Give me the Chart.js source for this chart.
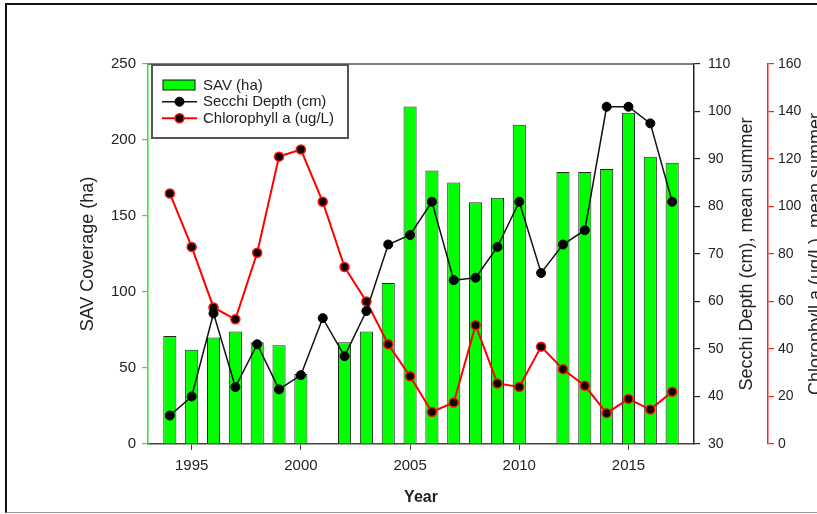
<!DOCTYPE html>
<html>
<head>
<meta charset="utf-8">
<script src="https://cdn.jsdelivr.net/npm/chart.js@4.4.1/dist/chart.umd.min.js"></script>
<style>
  html, body { margin: 0; padding: 0; background: #fff; overflow: hidden; width: 817px; height: 514px; }
  #wrap { position: absolute; left: 0; top: 0; width: 840px; height: 514px; }
  #frame { position: absolute; left: 5px; top: 3px; width: 900px; height: 507px;
           border-left: 2px solid #111; border-top: 2px solid #111; border-bottom: 1px solid #999;
           pointer-events: none; }
</style>
</head>
<body>
<div id="wrap"><canvas id="c"></canvas></div>
<div id="frame"></div>
<script>
// ---- data ----
const years     = [1994,1995,1996,1997,1998,1999,2000,2001,2002,2003,2004,2005,2006,2007,2008,2009,2010,2011,2012,2013,2014,2015,2016,2017];
const savHa     = [71,62,70,74,67,65,46,null,67,74,106,222,180,172,159,162,210,null,179,179,181,218,189,185];
const secchiCm  = [36,40,57.5,42,51,41.5,44.5,56.5,48.5,58,72,74,81,64.5,65,71.5,81,66,72,75,101,101,97.5,81];
const chlUgL    = [105.5,83,57.5,52.5,80.5,121,124,102,74.5,60,42,28.5,13.5,17.5,50,25.5,24,41,31.5,24.5,13,19,14.5,22];
const xTicks      = [1995,2000,2005,2010,2015];
const savTicks    = [0,50,100,150,200,250];
const secchiTicks = [30,40,50,60,70,80,90,100,110];
const chlTicks    = [0,20,40,60,80,100,120,140,160];
const savLabel    = 'SAV (ha)';
const secchiLabel = 'Secchi Depth (cm)';
const chlLabel    = 'Chlorophyll a (ug/L)';
const xTitle      = 'Year';
const savTitle    = 'SAV Coverage (ha)';
const secchiTitle = 'Secchi Depth (cm), mean summer';
const chlTitle    = 'Chlorophyll a (ug/L), mean summer';

const FAMILY = '"Liberation Sans", Arial, sans-serif';
Chart.defaults.font.family = FAMILY;
const TXT = '#222';

const pts = arr => years.map((yr, i) => ({ x: yr, y: arr[i] }));
const fixTicks = list => (s => { s.ticks = list.map(v => ({ value: v })); });

const decor = {
  id: 'decor',
  afterDatasetsDraw(chart) {
    const ctx = chart.ctx, a = chart.chartArea;
    ctx.save();
    // top border of plot box
    ctx.strokeStyle = '#555'; ctx.lineWidth = 1.5;
    ctx.beginPath(); ctx.moveTo(a.left, a.top); ctx.lineTo(a.right, a.top); ctx.stroke();

    // right-axis titles, reading bottom-to-top
    [['ySecchi', secchiTitle, 21], ['yChl', chlTitle, 24]].forEach(([id, text, off]) => {
      const s = chart.scales[id];
      ctx.save();
      ctx.translate(s.right - off, (s.top + s.bottom) / 2);
      ctx.rotate(-Math.PI / 2);
      ctx.font = '18px ' + FAMILY;
      ctx.fillStyle = TXT; ctx.textAlign = 'center'; ctx.textBaseline = 'middle';
      ctx.fillText(text, 0, 0);
      ctx.restore();
    });

    // legend box
    const lx = a.left + 4, ly = a.top + 1, lw = 196, lh = 73;
    ctx.fillStyle = '#fff';
    ctx.fillRect(lx, ly, lw, lh);
    ctx.strokeStyle = '#555'; ctx.lineWidth = 2;
    ctx.strokeRect(lx, ly, lw, lh);
    const ds = chart.data.datasets;
    const rows = [ly + 20, ly + 36.7, ly + 53.3];
    ctx.font = '15px ' + FAMILY; ctx.textAlign = 'left'; ctx.textBaseline = 'middle';
    // SAV swatch
    ctx.fillStyle = ds[0].backgroundColor; ctx.fillRect(lx + 11, rows[0] - 5, 32, 10);
    ctx.strokeStyle = '#111'; ctx.lineWidth = 1; ctx.strokeRect(lx + 11, rows[0] - 5, 32, 10);
    // line swatches
    [1, 2].forEach((k, j) => {
      const d = ds[k], y = rows[j + 1];
      ctx.strokeStyle = d.borderColor; ctx.lineWidth = d.borderWidth;
      ctx.beginPath(); ctx.moveTo(lx + 10, y); ctx.lineTo(lx + 45, y); ctx.stroke();
      ctx.beginPath(); ctx.arc(lx + 27.5, y, d.pointRadius, 0, Math.PI * 2);
      ctx.fillStyle = d.pointBackgroundColor; ctx.fill();
      ctx.strokeStyle = d.pointBorderColor; ctx.lineWidth = d.pointBorderWidth; ctx.stroke();
    });
    ctx.fillStyle = TXT;
    ds.forEach((d, i) => ctx.fillText(d.label, lx + 51, rows[i] + 0.5));
    ctx.restore();
  }
};

new Chart(document.getElementById('c'), {
  type: 'bar',
  data: {
    datasets: [
      { type: 'bar', label: savLabel, data: pts(savHa), yAxisID: 'ySav', order: 3,
        backgroundColor: '#00ff00', borderColor: '#222', borderWidth: 1,
        barPercentage: 0.6, categoryPercentage: 1 },
      { type: 'line', label: secchiLabel, data: pts(secchiCm), yAxisID: 'ySecchi', order: 1,
        borderColor: '#111', borderWidth: 1.5, tension: 0,
        pointRadius: 4.5, pointBackgroundColor: '#000', pointBorderColor: '#000', pointBorderWidth: 1 },
      { type: 'line', label: chlLabel, data: pts(chlUgL), yAxisID: 'yChl', order: 2,
        borderColor: '#ff0000', borderWidth: 2, tension: 0,
        pointRadius: 4.5, pointBackgroundColor: '#100', pointBorderColor: '#ff1010', pointBorderWidth: 1.5 }
    ]
  },
  options: {
    responsive: true, maintainAspectRatio: false, animation: false, events: [],
    layout: { padding: { left: 73, top: 64, right: 0, bottom: 0 } },
    plugins: { legend: { display: false }, tooltip: { enabled: false } },
    scales: {
      x: {
        type: 'linear', position: 'bottom', min: 1993, max: 2018, offset: false,
        afterBuildTicks: fixTicks(xTicks),
        afterFit: s => { s.height = 70; },
        grid: { display: true, drawOnChartArea: false, drawTicks: true, tickLength: 6, color: '#444', lineWidth: 1, offset: false },
        border: { display: true, color: '#444', width: 1.5 },
        ticks: { font: { size: 15 }, color: TXT, padding: 7, maxRotation: 0, autoSkip: false, callback: v => String(v) },
        title: { display: true, text: xTitle, color: TXT, font: { size: 16, weight: 'bold' }, padding: { top: 0, bottom: 7 } }
      },
      ySav: {
        type: 'linear', position: 'left', min: 0, max: 250,
        afterBuildTicks: fixTicks(savTicks),
        afterFit: s => { s.width = 75; },
        grid: { display: true, drawOnChartArea: false, drawTicks: true, tickLength: 6, color: '#22ee22', lineWidth: 1.2 },
        border: { display: true, color: '#22ee22', width: 1.5 },
        ticks: { font: { size: 15 }, color: TXT, padding: 6 },
        title: { display: true, text: savTitle, color: TXT, font: { size: 18 }, padding: { top: 4, bottom: 0 } }
      },
      ySecchi: {
        type: 'linear', position: 'right', min: 30, max: 110,
        afterBuildTicks: fixTicks(secchiTicks),
        afterFit: s => { s.width = 74; },
        grid: { display: true, drawOnChartArea: false, drawTicks: true, tickLength: 6, color: '#222', lineWidth: 1.2 },
        border: { display: true, color: '#222', width: 1.5 },
        ticks: { font: { size: 14 }, color: TXT, padding: 8 },
        title: { display: false }
      },
      yChl: {
        type: 'linear', position: 'right', min: 0, max: 160,
        afterBuildTicks: fixTicks(chlTicks),
        afterFit: s => { s.width = 72; },
        grid: { display: true, drawOnChartArea: false, drawTicks: true, tickLength: 6, color: '#ff2020', lineWidth: 1.2 },
        border: { display: true, color: '#ff2020', width: 1.5 },
        ticks: { font: { size: 14 }, color: TXT, padding: 4 },
        title: { display: false }
      }
    }
  },
  plugins: [decor]
});
</script>
</body>
</html>
